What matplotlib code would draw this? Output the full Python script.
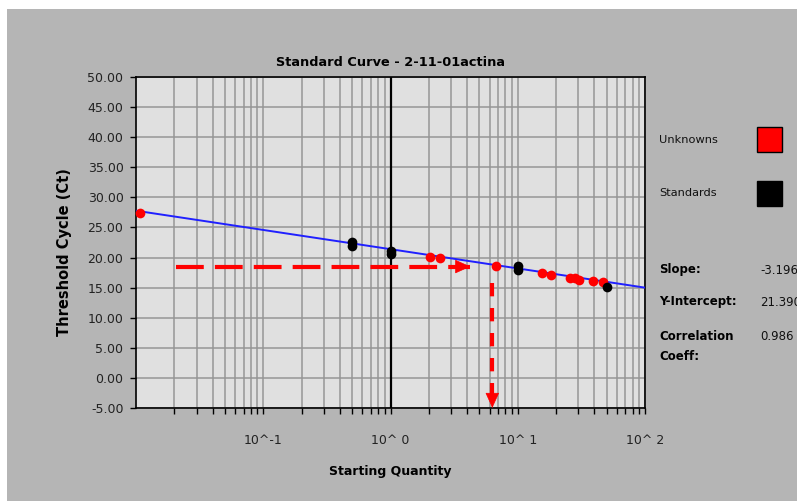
import numpy as np
import matplotlib
matplotlib.use("Agg")
import matplotlib.pyplot as plt
from matplotlib.patches import Rectangle
from matplotlib.ticker import LogLocator, NullFormatter

# ---------------- data ----------------
title = "Standard Curve - 2-11-01actina"
x_label = "Starting Quantity"
y_label = "Threshold Cycle (Ct)"

x_tick_values = [0.1, 1, 10, 100]
x_tick_labels = ["10^-1", "10^ 0", "10^ 1", "10^ 2"]
y_tick_values = [-5, 0, 5, 10, 15, 20, 25, 30, 35, 40, 45, 50]
y_tick_labels = ["-5.00", "0.00", "5.00", "10.00", "15.00", "20.00",
                 "25.00", "30.00", "35.00", "40.00", "45.00", "50.00"]

unknown_qty = [0.0107, 2.05, 2.47, 6.8, 15.4, 18.4, 25.8, 28.3, 30.4, 39.1, 46.9]
unknown_ct = [27.35, 20.15, 19.88, 18.6, 17.39, 17.11, 16.56, 16.56, 16.28, 16.16, 15.90]

standard_qty = [0.5, 0.5, 1, 1, 10, 10, 50]
standard_ct = [22.6, 21.9, 21.1, 20.6, 18.6, 17.85, 15.17]

slope = -3.196
intercept = 21.390
correlation = 0.986

# read-off arrows
arrow_ct = 18.5
arrow_start_qty = 0.0206
arrow_end_qty = 4.24
drop_qty = 6.31
drop_top_ct = 15.8

legend_labels = ["Unknowns", "Standards"]
legend_colors = ["#ff0000", "#000000"]
stat_labels = [["Slope:"], ["Y-Intercept:"], ["Correlation", "Coeff:"]]
stat_values = ["%.3f" % slope, "%.3f" % intercept, "%.3f" % correlation]

# ---------------- figure ----------------
plt.rcParams["lines.scale_dashes"] = False
plt.rcParams["font.family"] = ["DejaVu Sans"]

W, H = 797, 501
fig = plt.figure(figsize=(W / 100, H / 100), dpi=100, facecolor="#b5b5b5")


def fx(px):
    return px / W


def fy(py):
    return 1 - py / H


# white strips at top and left
fig.patches.append(Rectangle((0, fy(9)), 1, 9 / H, transform=fig.transFigure,
                             facecolor="white", edgecolor="none", zorder=0))
fig.patches.append(Rectangle((0, 0), fx(7), 1, transform=fig.transFigure,
                             facecolor="white", edgecolor="none", zorder=0))

ax = fig.add_axes([fx(136), fy(408), fx(645) - fx(136), (408 - 77) / H])
ax.set_facecolor("#e0e0e0")
ax.set_xscale("log")
ax.set_xlim(0.01, 100)
ax.set_ylim(-5, 50)

# grid
ax.xaxis.set_minor_locator(LogLocator(base=10, subs=np.arange(2, 10)))
ax.xaxis.set_minor_formatter(NullFormatter())
ax.set_xticks(x_tick_values, x_tick_labels)
ax.set_yticks(y_tick_values, y_tick_labels)
ax.grid(which="both", axis="x", color="#969696", lw=1.1, zorder=0)
ax.grid(which="major", axis="y", color="#969696", lw=1.1, zorder=0)
ax.set_axisbelow(True)

ax.tick_params(axis="x", which="both", direction="out", length=4.5, width=1.0,
               color="black", pad=14, labelsize=9, labelcolor="#222222")
ax.tick_params(axis="y", which="major", direction="out", length=4, width=1.0,
               color="black", pad=5, labelsize=9, labelcolor="#222222")
for s in ax.spines.values():
    s.set_linewidth(1.2)
    s.set_color("black")

# black vertical line at 10^0
ax.axvline(1, color="black", lw=1.6, zorder=2)

# regression line
xl = np.array(ax.get_xlim())
ax.plot(xl, slope * np.log10(xl) + intercept, color="#2020ff", lw=1.4, zorder=3)

# read-off arrows
ax.plot([arrow_start_qty, arrow_end_qty], [arrow_ct, arrow_ct], color="#ff0000",
        lw=3.0, dashes=(20, 8), zorder=4, solid_capstyle="butt")
ax.annotate("", xy=(arrow_end_qty, arrow_ct),
            xytext=(arrow_end_qty / 10 ** (14 / 127.5), arrow_ct),
            arrowprops=dict(arrowstyle="-|>,head_length=1.0,head_width=0.45",
                            color="#ff0000", lw=0.5, mutation_scale=10,
                            shrinkA=0, shrinkB=0), zorder=5)
ax.plot([drop_qty, drop_qty], [drop_top_ct, -5], color="#ff0000",
        lw=3.0, dashes=(9.6, 8.4), zorder=4)
ax.annotate("", xy=(drop_qty, -5), xytext=(drop_qty, -5 + 13 / 6.02),
            arrowprops=dict(arrowstyle="-|>,head_length=1.0,head_width=0.45",
                            color="#ff0000", lw=0.5, mutation_scale=10,
                            shrinkA=0, shrinkB=0), zorder=5, annotation_clip=False)

# points
ax.plot(unknown_qty, unknown_ct, "o", color="#ff0000", ms=7, mec="none", zorder=6,
        clip_on=False)
ax.plot(standard_qty, standard_ct, "o", color="#000000", ms=7, mec="none", zorder=6,
        clip_on=False)

# titles
fig.text(fx(390), fy(63), title, ha="center", va="center", fontsize=9.3,
         fontweight="bold", color="black")
fig.text(fx(390), fy(471), x_label, ha="center", va="center", fontsize=9,
         fontweight="bold", color="black")
fig.text(fx(65), fy(252), y_label, ha="center", va="center", fontsize=10.5,
         fontweight="bold", rotation=90, color="black")

# legend
legend_y = [140, 193]
for lab, col, py in zip(legend_labels, legend_colors, legend_y):
    fig.text(fx(659), fy(py), lab, ha="left", va="center", fontsize=8.2,
             color="#111111")
    fig.patches.append(Rectangle((fx(757), fy(py + 12.5)), 25 / W, 25 / H,
                                 transform=fig.transFigure, facecolor=col,
                                 edgecolor="black", lw=1.0))

# statistics
stat_y = [270, 302, 336]
for lines, val, py in zip(stat_labels, stat_values, stat_y):
    for i, line in enumerate(lines):
        fig.text(fx(659), fy(py + 20 * i), line, ha="left", va="center",
                 fontsize=8.5, fontweight="bold", color="black")
    fig.text(fx(760), fy(py), val, ha="left", va="center", fontsize=8.5,
             color="#111111")

fig.savefig("out.png", dpi=100, facecolor=fig.get_facecolor())
